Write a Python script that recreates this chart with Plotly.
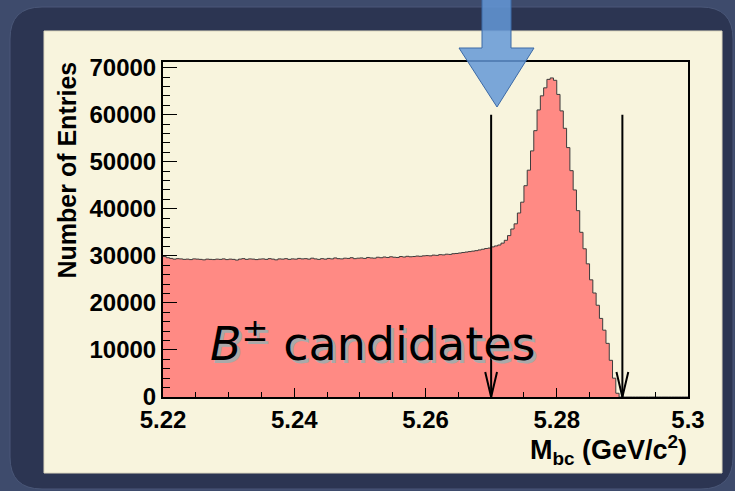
import numpy as np
import plotly.graph_objects as go

# ---- M_bc histogram: 160 bins of 0.5 MeV/c^2 from 5.22 to 5.30 GeV/c^2 ----
bin_low = 5.22
bin_high = 5.30
n_bins = 160

# sideband (bins 0-93)
counts_sideband = [
    29850, 29600, 29450, 29300, 29400, 29350, 29250, 29300, 29200, 29350,
    29300, 29250, 29150, 29300, 29250, 29200, 29300, 29250, 29350, 29200,
    29300, 29250, 29100, 29300, 29400, 29250, 29350, 29300, 29200, 29300,
    29350, 29250, 29400, 29300, 29150, 29350, 29300, 29400, 29250, 29350,
    29300, 29450, 29350, 29400, 29300, 29500, 29350, 29250, 29400, 29300,
    29450, 29350, 29550, 29400, 29350, 29500, 29450, 29600, 29400, 29500,
    29550, 29450, 29650, 29550, 29500, 29700, 29600, 29750, 29650, 29800,
    29700, 29650, 29850, 29750, 29900, 29800, 29850, 29950, 29900, 30000,
    30050, 30000, 30150, 30100, 30250, 30200, 30350, 30300, 30450, 30500,
    30600, 30700, 30800, 30900,
]
# rising edge (bins 94-116)
counts_rise = [
    31000, 31100, 31250, 31400, 31550, 31650, 31900, 32100, 32300, 32700,
    33300, 34300, 35700, 36800, 39100, 41400, 44900, 48200, 52300, 56600,
    61000, 64000, 65700,
]
# signal peak (bins 117-119)
counts_peak = [67500, 67800, 67300]
# falling edge up to the kinematic endpoint (bins 120-138)
counts_fall = [
    64300, 60800, 57100, 53000, 48100, 44000, 39600, 35000, 31500, 28300,
    24900, 22100, 19500, 16700, 14200, 11400, 7800, 4000, 800,
]
# above the endpoint (bins 139-159)
counts_tail = [0, 0, 0, 0, 0, 0, 0, 0, 0, 0, 0, 0, 0, 0, 0, 0, 0, 0, 0, 0, 0]

counts = counts_sideband + counts_rise + counts_peak + counts_fall + counts_tail

x_tick_vals = [5.22, 5.24, 5.26, 5.28, 5.30]
x_tick_text = ["5.22", "5.24", "5.26", "5.28", "5.3"]
y_tick_vals = [0, 10000, 20000, 30000, 40000, 50000, 60000, 70000]
y_tick_text = ["0", "10000", "20000", "30000", "40000", "50000", "60000", "70000"]

# M_bc selection window drawn as downward arrows
cut_values = [5.27, 5.29]
cut_arrow_top = 60000

label_text = "<i>B</i><sup>±</sup> candidates"
x_title = "M<sub>bc</sub> (GeV/c<sup>2</sup>)"
y_title = "Number of Entries"

# ---- geometry of the page (pixels) ----
FIG_W, FIG_H = 735, 491
L, R, T, B = 163, 688, 62, 397
PW, PH = R - L, B - T


def px(xp):
    return (xp - L) / PW


def py(yp):
    return (B - yp) / PH


def rounded_rect(x0, y0, x1, y1, r):
    return (
        f"M {px(x0 + r)} {py(y0)} L {px(x1 - r)} {py(y0)} "
        f"Q {px(x1)} {py(y0)} {px(x1)} {py(y0 + r)} "
        f"L {px(x1)} {py(y1 - r)} Q {px(x1)} {py(y1)} {px(x1 - r)} {py(y1)} "
        f"L {px(x0 + r)} {py(y1)} Q {px(x0)} {py(y1)} {px(x0)} {py(y1 - r)} "
        f"L {px(x0)} {py(y0 + r)} Q {px(x0)} {py(y0)} {px(x0 + r)} {py(y0)} Z"
    )


def polygon(points):
    s = "M " + " L ".join(f"{px(a)} {py(b)}" for a, b in points)
    return s + " Z"


edges = np.linspace(bin_low, bin_high, n_bins + 1)
y_max = max(counts) * 1.05

fig = go.Figure()

# histogram as filled step line
fig.add_trace(go.Scatter(
    x=edges, y=counts + [counts[-1]],
    mode="lines", line_shape="hv",
    line=dict(color="#3c3c3c", width=1),
    fill="tozeroy", fillcolor="#ff8a84",
    hoverinfo="skip", showlegend=False,
))

# cut arrows: shaft plus open head
head_dx = 0.0009
head_dy = 5300
for c in cut_values:
    fig.add_trace(go.Scatter(
        x=[c, c], y=[cut_arrow_top, 0], mode="lines",
        line=dict(color="black", width=2), hoverinfo="skip", showlegend=False,
    ))
    fig.add_trace(go.Scatter(
        x=[c - head_dx, c, c + head_dx], y=[head_dy, 0, head_dy], mode="lines",
        line=dict(color="black", width=2), hoverinfo="skip", showlegend=False,
    ))

shapes = [
    # dark rounded panel
    dict(type="path", xref="paper", yref="paper", layer="below",
         path=rounded_rect(10, 7, 733, 489, 32),
         fillcolor="#2c3552", line=dict(color="#4a5778", width=1)),
    # cream canvas
    dict(type="rect", xref="paper", yref="paper", layer="below",
         x0=px(44), x1=px(722), y0=py(473), y1=py(31),
         fillcolor="#f8f4dd", line=dict(color="#ddd8c0", width=1)),
    # big blue pointer arrow
    dict(type="path", xref="paper", yref="paper", layer="above",
         path=polygon([(482, -4), (511, -4), (511, 48), (534, 48),
                       (497, 107), (459, 48), (482, 48)]),
         fillcolor="rgba(100,152,215,0.85)", line=dict(color="#3c6aa6", width=1)),
]

annotations = [
    # label with grey drop shadow
    dict(text=label_text, xref="paper", yref="paper", x=px(372), y=py(373),
         xanchor="center", yanchor="bottom", showarrow=False,
         font=dict(family="DejaVu Sans", size=46, color="black",
                   shadow="3px 3px 0px #a9a9a9")),
    # axis titles
    dict(text=x_title, xref="paper", yref="paper", x=px(689), y=py(450),
         xanchor="right", yanchor="middle", showarrow=False,
         font=dict(family="Liberation Sans", size=27, color="black", weight="bold")),
    dict(text=y_title, xref="paper", yref="paper", x=px(67), y=py(60),
         xanchor="center", yanchor="top", textangle=-90, showarrow=False,
         font=dict(family="Liberation Sans", size=25, color="black", weight="bold")),
]

tick_font = dict(family="Liberation Sans", size=24, color="black", weight="bold")

fig.update_layout(
    width=FIG_W, height=FIG_H,
    margin=dict(l=L, r=FIG_W - R, t=T, b=FIG_H - B, pad=0),
    paper_bgcolor="#3e4b6c", plot_bgcolor="#f8f4dd",
    shapes=shapes, annotations=annotations,
    xaxis=dict(
        range=[bin_low, bin_high], showgrid=False, zeroline=False,
        showline=True, linecolor="black", linewidth=2, mirror=True,
        ticks="inside", ticklen=9, tickwidth=1, tickcolor="black",
        tickvals=x_tick_vals, ticktext=x_tick_text, tickfont=tick_font,
        ticklabelstandoff=0,
        minor=dict(ticks="inside", ticklen=5, tickwidth=1, tickcolor="black",
                   dtick=0.005, tick0=bin_low, showgrid=False),
    ),
    yaxis=dict(
        range=[0, y_max], showgrid=False, zeroline=False,
        showline=True, linecolor="black", linewidth=2, mirror=True,
        ticks="inside", ticklen=14, tickwidth=1, tickcolor="black",
        tickvals=y_tick_vals, ticktext=y_tick_text, tickfont=tick_font,
        minor=dict(ticks="inside", ticklen=7, tickwidth=1, tickcolor="black",
                   dtick=2000, tick0=0, showgrid=False),
    ),
)

fig.write_html("out.html", config={"displayModeBar": False},
               post_script="document.body.style.margin='0px';")
